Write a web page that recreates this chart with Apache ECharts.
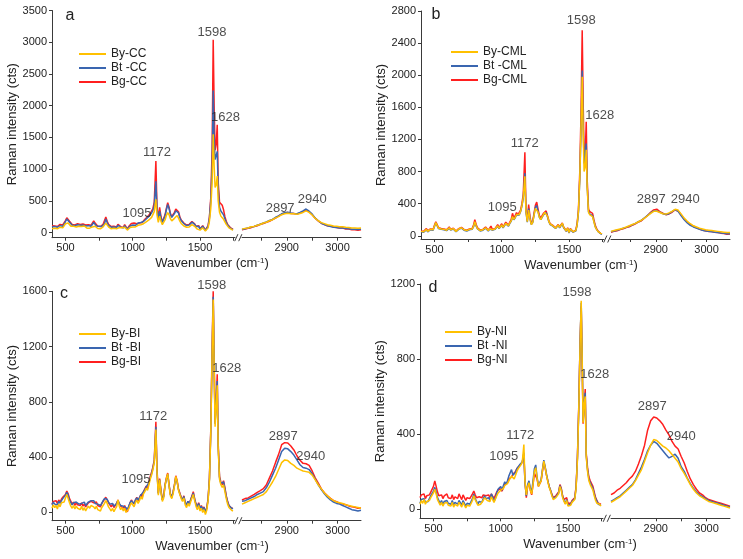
<!DOCTYPE html>
<html><head><meta charset="utf-8">
<script src="https://cdn.jsdelivr.net/npm/echarts@6/dist/echarts.min.js"></script>
<style>html,body{margin:0;padding:0;background:#fff}#c{width:743px;height:559px}</style>
</head><body><div id="c"></div>
<script>
// ---------- wavenumber grids ----------
const xLeft = [400,410,420,430,440,450,460,470,480,490,
500,510,520,530,540,550,560,570,580,590,
600,610,620,630,640,650,660,670,680,690,
700,710,720,730,740,750,760,770,780,790,
800,810,820,830,840,850,860,870,880,890,
900,910,920,930,940,950,960,970,980,990,
1000,1010,1020,1030,1040,1050,1060,1070,1080,1090,
1100,1110,1120,1130,1140,1150,1160,1172,1180,1190,
1200,1210,1220,1230,1240,1250,1260,1270,1280,1290,
1300,1310,1320,1330,1340,1350,1360,1370,1380,1390,
1400,1410,1420,1430,1440,1450,1460,1470,1480,1490,
1500,1510,1520,1530,1540,1550,1560,1570,1580,1590,
1598,1605,1612,1620,1628,1635,1645,1655,1665,1675,
1685,1695,1705,1715,1725,1735,1745];
const xRight = [2812,2818,2824,2830,2836,2842,2848,2854,2860,2866,
2872,2878,2884,2890,2896,2902,2908,2914,2920,2926,
2932,2938,2944,2950,2956,2962,2968,2974,2980,2986,
2992,2998,3004,3010,3016,3022,3028,3034,3040,3046];

// ---------- panel a (CC) ----------
const aBgL = [110,125,105,120,95,110,130,105,120,150,
190,235,225,180,150,130,145,120,135,140,
150,130,145,135,150,120,110,125,105,115,
140,185,150,120,100,115,95,110,130,160,
245,180,130,110,95,120,100,115,90,130,
120,95,110,80,125,100,60,95,120,145,
130,150,125,140,160,150,175,160,185,210,
230,250,270,300,330,380,480,1130,420,230,
400,250,170,190,280,380,470,400,300,250,
280,320,370,400,330,250,200,170,150,140,
120,110,130,150,175,200,140,100,80,110,
60,85,110,80,40,60,110,250,550,1300,
3040,2000,1300,1400,1700,800,480,450,430,360,
250,180,130,100,80,65,50];
const aBtL = [90,105,95,100,85,95,110,90,100,130,
175,215,205,165,135,115,130,110,120,125,
130,115,125,120,135,105,95,110,95,100,
120,160,135,105,90,100,85,95,115,140,
215,160,115,100,85,105,90,100,80,115,
105,85,95,75,110,90,55,85,105,130,
120,135,115,130,150,140,160,150,175,195,
215,235,255,280,310,350,430,810,380,210,
340,230,160,180,260,360,445,380,290,240,
265,300,345,365,310,235,190,160,140,130,
110,100,120,140,165,190,130,95,75,100,
55,80,100,75,35,55,100,230,500,1050,
2240,1500,1150,1150,1280,700,400,340,320,280,
220,160,120,90,70,55,45];
const aByL = [60,80,70,75,60,70,85,65,75,100,
140,160,150,125,100,85,100,80,90,95,
100,85,95,90,105,80,70,85,70,75,
90,120,100,80,65,75,60,70,90,110,
150,120,90,75,60,80,70,75,60,90,
80,60,75,55,85,70,40,65,80,100,
90,105,90,100,115,110,125,120,140,155,
170,185,200,220,240,270,330,525,280,160,
260,180,125,140,200,270,315,280,220,185,
200,225,255,270,230,180,145,120,105,95,
85,75,90,105,125,145,100,70,55,75,
40,60,75,55,25,40,75,180,380,800,
1550,1050,710,750,890,500,320,260,240,210,
180,130,100,75,60,50,40];
const aBgR = [45,55,70,78,98,108,132,142,162,178,205,228,262,288,312,316,303,302,292,308,
332,356,328,282,228,182,148,128,108,102,88,82,73,72,58,57,44,47,38,46];
const aBtR = [50,62,73,88,98,117,133,152,168,192,208,242,263,297,313,322,308,302,298,317,
343,372,338,292,228,187,148,127,108,97,83,82,73,72,63,62,53,52,48,57];
const aByR = [55,67,73,92,98,117,128,152,163,187,203,232,253,282,298,307,298,297,288,302,
318,342,318,277,223,187,158,142,123,117,103,102,93,92,83,82,73,72,68,72];

// ---------- panel b (CML) ----------
const bBgL = [60,80,55,75,90,60,70,85,65,80,
130,175,140,100,80,90,70,85,100,75,
90,110,80,70,95,75,60,65,90,70,
105,95,80,100,70,60,85,75,90,130,
200,140,100,80,70,60,80,100,110,90,
70,95,120,80,60,90,110,140,100,120,
150,110,140,170,150,130,170,200,280,220,
250,290,260,280,320,400,520,1040,330,190,
390,240,150,180,280,380,420,330,250,220,
250,280,300,310,250,190,150,170,130,110,
100,120,140,110,130,160,110,90,60,100,
40,90,70,50,40,70,150,320,800,1600,
2560,1700,950,1000,1420,700,330,300,310,280,
200,130,90,60,40,30,25];
const bBtL = [50,70,45,65,75,50,60,75,55,70,
115,160,125,90,70,80,60,75,85,65,
80,95,70,60,85,65,50,55,80,60,
95,85,70,85,60,50,75,65,80,110,
170,120,85,70,60,50,70,90,95,80,
60,85,105,70,50,80,95,120,90,105,
130,100,125,150,135,120,155,180,230,200,
225,260,240,260,300,370,470,780,300,170,
340,215,140,165,260,350,380,300,230,200,
230,260,280,290,235,175,140,155,120,100,
90,110,130,100,120,150,100,80,55,90,
35,80,65,45,35,60,130,290,700,1350,
2060,1400,900,900,1150,620,300,270,280,250,
180,115,80,55,35,25,20];
const bByL = [55,75,50,70,80,55,65,80,60,75,
120,165,130,95,75,85,65,80,90,70,
85,100,75,65,90,70,55,60,85,65,
100,90,75,90,65,55,80,70,85,115,
175,125,90,75,65,55,75,95,100,85,
65,90,110,75,55,85,100,125,95,110,
135,105,130,155,140,125,160,185,240,205,
230,265,245,265,305,375,480,740,310,175,
320,210,140,165,255,340,355,295,230,200,
235,265,290,300,245,180,145,160,125,105,
95,115,135,105,125,155,105,85,60,95,
40,85,70,50,40,65,135,300,720,1400,
1980,1300,800,850,1070,600,290,260,270,240,
175,110,80,55,40,30,25];
const bBgR = [45,55,63,77,88,102,113,132,148,172,188,222,253,292,323,332,302,282,263,272,
293,322,308,262,208,172,138,122,98,87,68,62,53,52,43,42,33,27,18,22];
const bBtR = [50,60,70,80,95,105,120,135,155,175,195,225,255,285,310,310,295,275,265,275,
300,325,305,250,200,160,130,110,95,80,70,60,55,50,45,40,35,30,25,25];
const bByR = [55,65,75,85,95,110,125,140,155,175,195,220,250,280,305,305,290,275,270,285,
305,330,320,270,220,180,150,125,110,95,85,75,70,65,60,55,50,45,40,40];

// ---------- panel c (BI) ----------
const cBgL = [60,80,70,85,65,90,75,95,110,100,
130,155,135,100,80,60,75,50,70,55,
65,50,70,45,60,40,55,70,60,80,
85,70,60,75,50,60,40,65,80,95,
110,90,70,55,40,60,35,50,65,90,
60,45,55,30,50,20,5,40,70,90,
75,60,90,110,85,100,130,110,150,170,
190,170,220,260,290,330,380,655,320,140,
245,160,90,120,200,250,285,200,130,110,
150,200,265,230,170,140,110,90,120,70,
50,80,60,90,120,150,100,60,40,70,
30,50,20,40,0,30,100,250,600,1200,
1600,1100,650,800,1000,500,260,220,200,230,
180,120,80,50,40,30,30];
const cBtL = [55,75,60,70,55,80,65,85,100,95,
125,145,125,90,70,55,70,60,75,65,
60,70,65,55,75,50,60,75,70,85,
80,85,65,70,60,55,50,65,85,100,
105,95,75,60,50,65,45,55,65,85,
65,50,60,45,55,35,20,45,70,85,
80,65,90,105,90,100,125,115,150,165,
185,175,215,250,280,320,370,620,300,135,
235,150,90,115,195,240,275,195,130,110,
145,195,255,220,165,135,110,90,115,70,
55,80,60,90,115,140,95,60,40,65,
30,45,20,35,5,30,95,240,580,1150,
1560,1080,640,780,950,480,250,210,200,220,
170,115,75,50,40,30,25];
const cByL = [30,55,35,50,25,60,40,70,80,75,
105,130,100,70,45,30,50,25,45,30,
40,20,45,15,35,10,30,45,30,50,
55,40,25,45,20,30,10,35,50,65,
85,65,40,25,10,30,5,25,40,90,
45,20,35,10,30,0,-10,25,50,70,
55,40,70,90,65,85,115,95,135,150,
175,160,200,240,270,310,360,600,300,125,
235,145,80,105,190,245,280,190,120,100,
135,190,260,225,160,130,100,80,105,55,
35,65,45,75,105,130,85,45,20,50,
10,30,0,20,-15,15,85,230,570,1150,
1540,1050,620,760,920,470,240,200,180,200,
150,100,60,35,25,15,10];
const cBgR = [90,100,105,118,130,145,158,172,200,250,300,362,420,490,505,502,480,452,410,377,
355,352,340,300,250,212,170,142,120,102,85,77,65,62,55,47,40,37,30,32];
const cBtR = [80,85,95,105,115,130,140,150,180,220,270,320,380,440,465,460,440,415,380,345,
325,320,310,280,240,200,165,135,110,90,75,65,60,50,40,30,20,15,10,15];
const cByR = [60,70,80,90,100,110,120,130,150,185,220,260,310,360,380,375,355,340,320,310,
300,295,290,270,235,200,170,140,120,100,85,75,70,65,55,50,45,40,35,30];

// ---------- panel d (NI) ----------
const dBgL = [60,75,65,80,55,70,60,75,90,80,
120,150,120,90,70,60,75,55,70,60,
80,60,70,55,75,50,65,70,55,80,
65,50,75,60,45,60,50,55,65,80,
95,75,60,50,65,55,60,75,85,70,
65,75,60,80,70,55,65,90,100,110,
105,95,115,130,120,140,160,150,170,185,
175,200,215,225,230,240,250,290,150,60,
120,140,100,75,130,190,200,160,120,110,
150,200,250,220,180,150,120,100,80,60,
50,70,60,90,130,110,70,50,40,60,
30,20,30,45,35,60,120,280,550,900,
1080,800,455,550,640,300,220,170,150,140,
120,90,60,45,30,40,25];
const dBtL = [30,50,40,55,35,45,40,55,70,60,
95,115,90,60,45,30,45,25,40,30,
45,30,40,25,45,20,35,40,25,45,
35,20,45,30,15,30,20,25,35,55,
80,55,40,25,40,30,35,55,70,55,
50,60,45,80,65,40,55,85,105,115,
120,100,125,145,130,150,175,165,210,180,
170,195,215,225,235,245,250,300,140,70,
130,150,110,90,150,215,235,170,125,115,
155,210,260,225,185,150,120,100,75,55,
45,65,55,85,125,105,65,45,30,50,
20,15,25,40,30,55,115,270,540,900,
1100,820,470,560,620,290,210,160,140,130,
110,80,55,40,25,30,20];
const dByL = [25,45,30,50,25,40,30,45,60,50,
85,105,80,50,35,20,35,15,30,20,
35,20,30,15,35,10,25,30,15,35,
25,10,35,20,5,20,10,15,25,45,
70,50,35,20,30,25,30,45,60,50,
45,55,40,65,55,35,45,70,85,95,
100,90,110,125,115,135,150,145,175,165,
160,180,200,215,225,235,250,343,150,75,
120,140,100,80,130,200,220,165,120,110,
150,205,255,220,180,145,115,95,70,50,
40,60,50,80,120,100,60,40,25,45,
15,10,20,35,25,50,110,260,530,880,
1110,800,460,560,600,280,200,150,130,120,
100,70,45,30,20,25,15];
const dBgR = [76,85,100,110,125,140,160,175,200,240,285,340,420,470,490,485,470,450,420,395,
360,335,320,280,245,200,160,130,105,85,75,60,50,45,40,35,30,25,20,15];
const dBtR = [40,50,60,70,85,100,115,130,155,190,225,265,310,340,360,350,330,310,290,272,
280,292,270,225,200,165,135,110,90,75,65,55,45,40,35,30,25,20,15,10];
const dByR = [35,45,55,65,80,95,110,125,150,180,210,255,300,340,370,365,350,335,325,310,
290,270,250,215,190,160,130,105,85,70,60,50,40,35,30,25,20,15,10,5];

// ---------- tick labels ----------
const xLeftLabels = [500,1000,1500];
const xLeftTicks = [500,750,1000,1250,1500,1750];
const xRightLabels = [2900,3000];
const xRightTicks = [2850,2900,2950,3000];
const yTicksA = [0,500,1000,1500,2000,2500,3000,3500];
const yTicksB = [0,400,800,1200,1600,2000,2400,2800];
const yTicksC = [0,400,800,1200,1600];
const yTicksD = [0,400,800,1200];

// ---------- peak annotations: [text, wavenumber, intensity] ----------
const annA = [['1598',1589,3161],['1628',1690,1822],['1172',1180,1270],['1095',1032,309],['2897',2887,388],['2940',2950,530]];
const annB = [['1598',1591,2688],['1628',1728,1505],['1172',1171,1152],['1095',1004,355],['2897',2891,455],['2940',2958,455]];
const annC = [['1598',1587,1646],['1628',1698,1043],['1172',1153,698],['1095',1024,240],['2897',2893,553],['2940',2947,403]];
const annD = [['1598',1567,1154],['1628',1698,715],['1172',1145,391],['1095',1022,279],['2897',2893,545],['2940',2950,385]];

const COLORS = ['#FFC000','#3A66B0','#FF1F1F']; // By, Bt, Bg
const FONT = 'Liberation Sans, Arial, sans-serif';
const AX = '#3a3a3a';

const panels = [
  {letter:'a', names:['By-CC','Bt -CC','Bg-CC'], L:[aByL,aBtL,aBgL], R:[aByR,aBtR,aBgR],
   yMin:-80, yMax:3500, yTicks:yTicksA, ann:annA,
   lay:{left:52, top:10.5, h:227.2, wl:183, gap:7, wr:119, legL:74, legT:43, letX:70, letY:16}},
  {letter:'b', names:['By-CML','Bt -CML','Bg-CML'], L:[bByL,bBtL,bBgL], R:[bByR,bBtR,bBgR],
   yMin:-40, yMax:2800, yTicks:yTicksB, ann:annB,
   lay:{left:421, top:11, h:228, wl:183, gap:7, wr:119, legL:446, legT:41, letX:436, letY:15}},
  {letter:'c', names:['By-BI','Bt -BI','Bg-BI'], L:[cByL,cBtL,cBgL], R:[cByR,cBtR,cBgR],
   yMin:-60, yMax:1600, yTicks:yTicksC, ann:annC,
   lay:{left:52, top:291.3, h:229.4, wl:183, gap:7, wr:119, legL:74, legT:323, letX:64, letY:294}},
  {letter:'d', names:['By-NI','Bt -NI','Bg-NI'], L:[dByL,dBtL,dBgL], R:[dByR,dBtR,dBgR],
   yMin:-50, yMax:1200, yTicks:yTicksD, ann:annD,
   lay:{left:420, top:284, h:234.3, wl:183, gap:8, wr:119, legL:440, legT:321, letX:433, letY:288}}
];

const pair = (xs, ys) => xs.map((x, i) => [x, ys[i]]);
const plain = v => String(v);

const option = {animation:false, backgroundColor:'#fff', grid:[], xAxis:[], yAxis:[], series:[], legend:[], graphic:[]};

panels.forEach((p, k) => {
  const g = p.lay;
  const gl = 2*k, gr = 2*k+1;
  const rightLeft = g.left + g.wl + g.gap;
  option.grid.push({left:g.left, top:g.top, width:g.wl, height:g.h});
  option.grid.push({left:rightLeft, top:g.top, width:g.wr, height:g.h});
  const axisCommon = {axisLine:{show:true, onZero:false, lineStyle:{color:AX, width:1}},
    splitLine:{show:false}};
  option.xAxis.push(Object.assign({gridIndex:gl, type:'value', min:400, max:1760,
    axisTick:{show:true, length:3, customValues:xLeftTicks, lineStyle:{color:AX}},
    axisLabel:{customValues:xLeftLabels, formatter:plain, margin:5, fontSize:11, color:'#222', fontFamily:FONT}}, axisCommon));
  option.xAxis.push(Object.assign({gridIndex:gr, type:'value', min:2812, max:3046,
    axisTick:{show:true, length:3, customValues:xRightTicks, lineStyle:{color:AX}},
    axisLabel:{customValues:xRightLabels, formatter:plain, margin:5, fontSize:11, color:'#222', fontFamily:FONT}}, axisCommon));
  option.yAxis.push(Object.assign({gridIndex:gl, type:'value', min:p.yMin, max:p.yMax,
    axisTick:{show:true, length:3, customValues:p.yTicks, lineStyle:{color:AX}},
    axisLabel:{customValues:p.yTicks, formatter:plain, margin:5, fontSize:11, color:'#222', fontFamily:FONT},
    name:'Raman intensity (cts)', nameLocation:'middle', nameGap:23, nameRotate:90,
    nameTextStyle:{fontSize:13, color:'#222', fontFamily:FONT}}, axisCommon));
  option.yAxis.push({gridIndex:gr, type:'value', min:p.yMin, max:p.yMax, show:false});

  // spectra: draw Bg, Bt, By so that By ends on top
  [2,1,0].forEach(j => {
    option.series.push({type:'line', name:p.names[j], xAxisIndex:gl, yAxisIndex:gl,
      data:pair(xLeft, p.L[j]), symbol:'none', color:COLORS[j],
      lineStyle:{width:1.5, color:COLORS[j]}, silent:true});
    option.series.push({type:'line', name:p.names[j], xAxisIndex:gr, yAxisIndex:gr,
      data:pair(xRight, p.R[j]), symbol:'none', color:COLORS[j],
      lineStyle:{width:1.5, color:COLORS[j]}, silent:true});
  });

  // annotations
  const annL = p.ann.filter(a => a[1] < 2000).map(a => [a[1], a[2], a[0]]);
  const annR = p.ann.filter(a => a[1] >= 2000).map(a => [a[1], a[2], a[0]]);
  [[annL, gl],[annR, gr]].forEach(([d, idx]) => {
    option.series.push({type:'scatter', xAxisIndex:idx, yAxisIndex:idx, data:d, symbolSize:1,
      itemStyle:{color:'rgba(0,0,0,0)'}, clip:false, silent:true, z:10,
      label:{show:true, position:'inside', formatter:(q)=>q.data[2], fontSize:13,
        color:'#222', fontFamily:FONT}});
  });

  option.legend.push({data:p.names, orient:'vertical', left:g.legL, top:g.legT, icon:'rect',
    itemWidth:27, itemHeight:2, itemGap:2, selectedMode:false,
    textStyle:{fontSize:12, color:'#222', fontFamily:FONT}});

  // panel letter
  option.graphic.push({type:'text', x:g.letX, y:g.letY,
    style:{text:p.letter, fontSize:16, fill:'#222', fontFamily:FONT, align:'center', verticalAlign:'middle'}});
  // x-axis title
  option.graphic.push({type:'text', x:g.left + 160, y:g.top + g.h + 26,
    style:{text:'{t|Wavenumber (cm}{s|-1}{t|)}', align:'center', verticalAlign:'middle',
      rich:{t:{fontSize:13, fill:'#222', fontFamily:FONT}, s:{fontSize:8, fill:'#222', fontFamily:FONT, verticalAlign:'top'}}}});
  // axis break marks //
  const bx = g.left + g.wl + g.gap/2, by = g.top + g.h;
  [-2.2, 1.8].forEach(dx => {
    option.graphic.push({type:'line', shape:{x1:bx+dx-1.6, y1:by+3.5, x2:bx+dx+1.6, y2:by-3.5},
      style:{stroke:AX, lineWidth:1}});
  });
});

const chart = echarts.init(document.getElementById('c'), null, {renderer:'canvas'});
chart.setOption(option);
</script>
</body></html>
